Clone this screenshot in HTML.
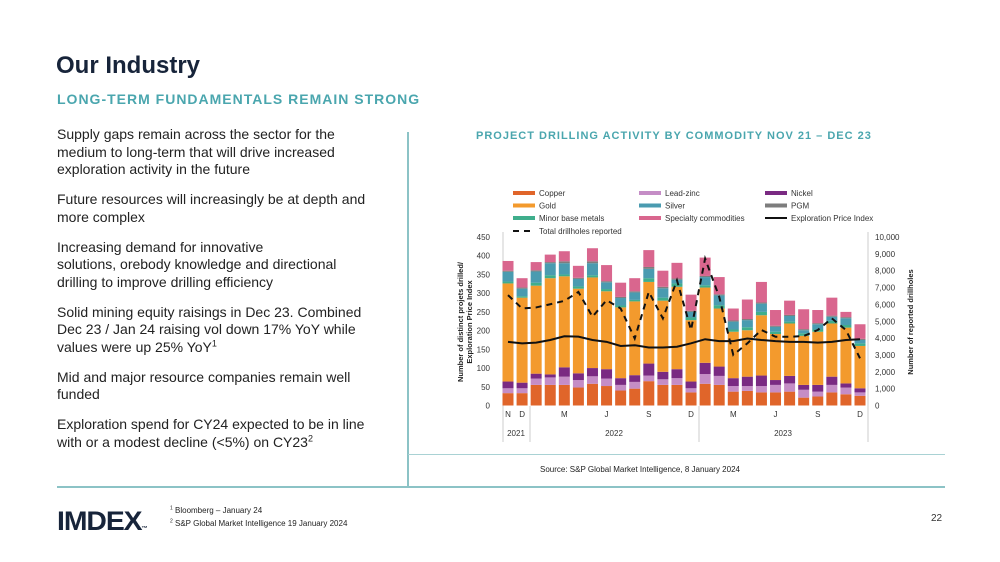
<!DOCTYPE html>
<html><head><meta charset="utf-8"><style>
body{margin:0;width:1000px;height:562px;background:#fff;font-family:"Liberation Sans",sans-serif;position:relative;overflow:hidden;color:#1f2a36}
.a{position:absolute}
h1{position:absolute;left:56px;top:52px;margin:0;font-size:24px;font-weight:bold;color:#17243a}
.sub{left:57px;top:91px;font-size:14px;font-weight:bold;letter-spacing:1px;color:#4aa6ae}
.bul{left:57px;font-size:14px;line-height:17.5px;color:#222;width:318px}
.bul p{margin:0 0 12.5px 0}
sup{font-size:9px;line-height:0}
</style></head><body>
<h1>Our Industry</h1>
<div class="a sub">LONG-TERM FUNDAMENTALS REMAIN STRONG</div>
<div class="a bul" style="top:126px">
<p>Supply gaps remain across the sector for the medium to long-term that will drive increased exploration activity in the future</p>
<p>Future resources will increasingly be at depth and more complex</p>
<p>Increasing demand for innovative<br>solutions, orebody knowledge and directional<br>drilling to improve drilling efficiency</p>
<p>Solid mining equity raisings in Dec 23. Combined Dec 23 / Jan 24 raising vol down 17% YoY while values were up 25% YoY<sup>1</sup></p>
<p>Mid and major resource companies remain well funded</p>
<p>Exploration spend for CY24 expected to be in line with or a modest decline (&lt;5%) on CY23<sup>2</sup></p>
</div>
<div class="a" style="left:407px;top:132px;width:2px;height:356px;background:#8cc3c6"></div>
<div class="a" style="left:57px;top:486px;width:888px;height:2px;background:#8cc3c6"></div>
<div class="a" style="left:408px;top:454px;width:537px;height:1px;background:#a9d2d4"></div>
<div class="a" style="left:476px;top:130px;font-size:11px;font-weight:bold;letter-spacing:1px;color:#4aa6ae">PROJECT DRILLING ACTIVITY BY COMMODITY NOV 21 – DEC 23</div>
<div class="a" style="left:540px;top:465px;font-size:8px;color:#222">Source: S&amp;P Global Market Intelligence, 8 January 2024</div>
<div class="a" style="left:57px;top:506px;font-size:27px;font-weight:900;color:#17243a;letter-spacing:-1px;transform:scaleX(1.05);transform-origin:left">IMDEX<span style="font-size:6px">™</span></div>
<div class="a" style="left:170px;top:504px;font-size:8px;line-height:13px;color:#222"><sup style="font-size:5px">1</sup> Bloomberg – January 24<br><sup style="font-size:5px">2</sup> S&amp;P Global Market Intelligence 19 January 2024</div>
<div class="a" style="left:931px;top:513px;font-size:10px;color:#333">22</div>
<svg class="a" style="left:0;top:0" width="1000" height="562" id="chart"></svg>
<script>
const months=["N21","D21","J22","F22","M22","A22","M22","J22","J22","A22","S22","O22","N22","D22","J23","F23","M23","A23","M23","J23","J23","A23","S23","O23","N23","D23"];
const copper=[33,33,55,55,55,48,58,52,40,45,65,55,55,35,58,55,37,39,35,35,37,21,24,35,30,26];
const leadZinc=[13,13,17,20,22,20,20,20,15,18,15,15,18,11,26,24,15,13,17,20,22,21,13,20,18,9];
const nickel=[18,15,13,8,25,18,22,25,18,18,32,20,24,18,30,25,21,25,28,13,20,13,18,22,11,11];
const gold=[262,227,235,257,243,226,242,208,189,197,218,190,220,164,201,155,124,124,161,123,140,131,142,142,149,113];
const minorBase=[5,4,8,8,5,6,6,6,5,4,10,8,9,7,6,9,6,8,9,6,5,7,6,7,7,7];
const silver=[26,20,30,32,30,20,32,18,20,20,25,25,10,15,22,26,21,19,22,13,15,8,14,11,18,9];
const pgm=[3,3,3,3,5,3,5,3,3,3,5,4,3,3,3,3,3,3,3,3,3,3,3,3,3,3];
const specialty=[26,25,22,20,27,32,35,43,38,35,45,43,42,43,49,46,32,52,55,42,38,53,35,48,14,39];
const priceIndex=[170,166,168,175,185,184,175,170,159,161,155,155,157,166,177,172,172,179,175,172,170,170,168,170,175,177];
const drillholes=[6550,5760,5820,6010,6210,6740,5270,6250,5760,3980,6740,5170,7430,4480,8720,6450,3000,3690,4480,4080,4080,4120,4480,5170,4480,2800];
const leftTicks=[0,50,100,150,200,250,300,350,400,450];
const rightTicks=[0,1000,2000,3000,4000,5000,6000,7000,8000,9000,10000];
const series=[copper,leadZinc,nickel,gold,minorBase,silver,pgm,specialty];
const colors=["#e0652a","#c58dc6","#7a2a82","#f39a2d","#3fae8c","#4a9bb0","#7d7d7d","#d9668e"];
const names=["Copper","Lead-zinc","Nickel","Gold","Minor base metals","Silver","PGM","Specialty commodities"];
const svg=document.getElementById('chart');const NS="http://www.w3.org/2000/svg";
const y0=405.5,yTop=237,xFirst=508,step=14.08,bw=11;
const yL=v=>y0-(v/450)*(y0-yTop);
const yR=v=>y0-(v/10000)*(y0-yTop);
const xC=i=>xFirst+i*step;
function mk(t,a,p){const e=document.createElementNS(NS,t);for(const k in a)e.setAttribute(k,a[k]);(p||svg).appendChild(e);return e;}
let e;
e=mk('line',{x1:503,y1:232,x2:503,y2:442,stroke:'#ccc','stroke-width':1});


e=mk('line',{x1:868,y1:232,x2:868,y2:442,stroke:'#ccc','stroke-width':1});


[530,699].forEach(x=>{e=mk('line',{x1:x,y1:406,x2:x,y2:442,stroke:'#ccc','stroke-width':1});

});
leftTicks.forEach(v=>{e=mk('text',{x:490,y:yL(v)+3,'font-size':8,fill:'#333','text-anchor':'end'});e.textContent=v;

});
rightTicks.forEach(v=>{e=mk('text',{x:875,y:yR(v)+3,'font-size':8,fill:'#333'});e.textContent=v.toLocaleString('en-US');

});
e=mk('text',{transform:'translate(463,322) rotate(-90)','font-size':7.5,'font-weight':'bold',fill:'#222','text-anchor':'middle'});e.innerHTML='<tspan x="0" dy="0">Number of distinct projets drilled/</tspan><tspan x="0" dy="9">Exploration Price Index</tspan>';


e=mk('text',{transform:'translate(913,322) rotate(-90)','font-size':7.5,'font-weight':'bold',fill:'#222','text-anchor':'middle'});e.textContent='Number of reported drillholes';


const xLabels=[["N",0],["D",1],["M",4],["J",7],["S",10],["D",13],["M",16],["J",19],["S",22],["D",25]];
xLabels.forEach(l=>{e=mk('text',{x:xC(l[1]),y:417,'font-size':8,fill:'#333','text-anchor':'middle'});e.textContent=l[0];

});
[["2021",516],["2022",614],["2023",783]].forEach(l=>{e=mk('text',{x:l[1],y:436,'font-size':8,fill:'#333','text-anchor':'middle'});e.textContent=l[0];

});
months.forEach((m,i)=>{let acc=0;series.forEach((s,k)=>{const v=s[i];
e=mk('rect',{x:xC(i)-bw/2,y:yL(acc+v),width:bw,height:yL(acc)-yL(acc+v),fill:colors[k]});

acc+=v;});});
e=mk('polyline',{points:priceIndex.map((v,i)=>xC(i)+','+yL(v)).join(' '),fill:'none',stroke:'#111','stroke-width':2});


e=mk('polyline',{points:drillholes.map((v,i)=>xC(i)+','+yR(v)).join(' '),fill:'none',stroke:'#111','stroke-width':2,'stroke-dasharray':'6,5'});


const leg=[[0,0],[1,1],[2,2],[3,0],[5,1],[6,2],[4,0],[7,1]];
const colX=[513,639,765];
leg.forEach((l,j)=>{const row=Math.floor(j/3),col=j%3;const yy=193+row*12.5;
e=mk('rect',{x:colX[col],y:yy-2,width:22,height:4,fill:colors[l[0]]});


e=mk('text',{x:colX[col]+26,y:yy+3,'font-size':8,fill:'#333'});e.textContent=names[l[0]];

});
e=mk('line',{x1:765,y1:218,x2:787,y2:218,stroke:'#111','stroke-width':2});


e=mk('text',{x:791,y:221,'font-size':8,fill:'#333'});e.textContent='Exploration Price Index';


e=mk('line',{x1:513,y1:231,x2:535,y2:231,stroke:'#111','stroke-width':2,'stroke-dasharray':'6,5'});


e=mk('text',{x:539,y:234,'font-size':8,fill:'#333'});e.textContent='Total drillholes reported';


</script>
</body></html>
